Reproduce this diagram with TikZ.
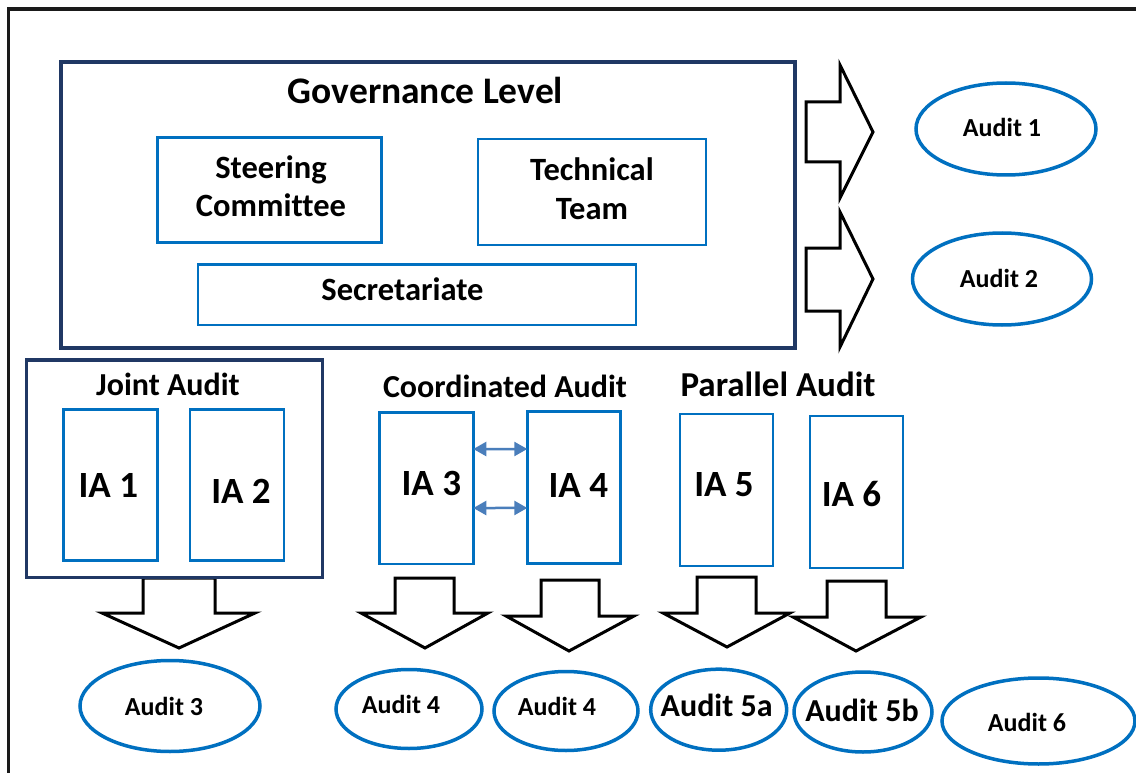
\documentclass[tikz,border=0pt]{standalone}
\usepackage{fontspec}
\setmainfont[Ligatures=NoCommon]{Carlito}
\usetikzlibrary{shapes.geometric,arrows.meta,calc}
\definecolor{navy}{HTML}{203864}
\definecolor{myblue}{HTML}{0070C0}
\definecolor{steel}{HTML}{4A7EBB}
\definecolor{frame}{HTML}{1A1A1A}
\begin{document}
\begin{tikzpicture}[x=1pt,y=-1pt,
  navybox/.style={draw=navy, line width=3.5pt, rectangle, inner sep=0pt, outer sep=0pt},
  bluebox/.style={draw=myblue, line width=2.6pt, rectangle, inner sep=0pt, outer sep=0pt},
  audit/.style={ellipse, draw=myblue, line width=3.5pt, inner sep=0pt, outer sep=0pt},
  blockarrow/.style={draw=black, line width=3pt, fill=white, line join=miter},
  dbl/.style={draw=steel, line width=2.5pt, {Triangle[length=13pt,width=14pt]}-{Triangle[length=13pt,width=14pt]}},
  lbl/.style={anchor=base, inner sep=0pt, font=\bfseries\fontsize{#1}{#1}\selectfont},
  lbl/.default=26,
  ml/.style={anchor=base, inner sep=0pt, align=center, font=\bfseries\fontsize{32.5}{38.5}\selectfont}]
\useasboundingbox (0,0) rectangle (1136,773);
\clip (0,0) rectangle (1136,773);
\fill[white] (0,0) rectangle (1136,773);
% outer frame
\draw[frame, line width=3.5pt] (8.5,9) rectangle (1170,820);

% governance
\node[navybox, minimum width=734pt, minimum height=286pt] (gov) at (428,205) {};
\node[lbl=37.5] (govt) at (425.5,104) {Governance Level};
\node[bluebox, minimum width=224pt, minimum height=105pt] (steer) at (269.5,190) {};
\node[ml] (steert) at (271,216.7) {Steering\\Committee};
\node[bluebox, minimum width=228pt, minimum height=106pt] (tech) at (592,192) {};
\node[ml] (techt) at (592,219) {Technical\\Team};
\node[bluebox, minimum width=438pt, minimum height=60.5pt] (secr) at (417,294.75) {};
\node[lbl=32.5] (secrt) at (402.5,300) {Secretariate};

% right block arrows
\draw[blockarrow] (806,102) -- (840,102) -- (840,65) -- (873,132) -- (840,198) -- (840,162) -- (806,162) -- cycle;
\draw[blockarrow] (806,248) -- (840,248) -- (840,212) -- (873,279) -- (840,347) -- (840,311) -- (806,311) -- cycle;
\node[audit, minimum width=180pt, minimum height=92pt] (a1) at (1006,129) {};
\node[lbl] (a1t) at (1002,136.7) {Audit 1};
\node[audit, minimum width=179pt, minimum height=92pt] (a2) at (1002,279) {};
\node[lbl] (a2t) at (999,287.3) {Audit 2};

% down block arrows
\draw[blockarrow] (143,578) -- (215,578) -- (215,613) -- (255,613) -- (179,648) -- (102,613) -- (143,613) -- cycle;
\draw[blockarrow] (395,578) -- (454,578) -- (454,613) -- (488,613) -- (425,648) -- (361,613) -- (395,613) -- cycle;
\draw[blockarrow] (541,580) -- (599,580) -- (599,616) -- (634,616) -- (569,651) -- (506,616) -- (541,616) -- cycle;
\draw[blockarrow] (697,577) -- (756,577) -- (756,613) -- (790,613) -- (727,647) -- (663,613) -- (697,613) -- cycle;
\draw[blockarrow] (827,581) -- (886,581) -- (886,617) -- (921,617) -- (856,651) -- (793,617) -- (827,617) -- cycle;

% joint audit
\node[navybox, minimum width=296pt, minimum height=217.3pt] (joint) at (174.7,468.65) {};
\node[lbl=32] (jointt) at (168,395) {Joint Audit};
\node[bluebox, minimum width=94pt, minimum height=151.4pt] (ia1) at (110.3,485) {};
\node[lbl=37] (ia1t) at (108.3,497.3) {IA 1};
\node[bluebox, minimum width=94pt, minimum height=151.4pt] (ia2) at (237,485) {};
\node[lbl=37] (ia2t) at (241,503.3) {IA 2};

% coordinated audit
\node[lbl=32] (coordt) at (505,397) {Coordinated Audit};
\node[bluebox, minimum width=94pt, minimum height=151.3pt] (ia3) at (426.3,488.35) {};
\node[lbl=37] (ia3t) at (431.3,495) {IA 3};
\node[bluebox, minimum width=93.4pt, minimum height=151.6pt] (ia4) at (574,487.5) {};
\node[lbl=37] (ia4t) at (578.3,497.3) {IA 4};
\draw[dbl] ($(ia3.north east)!0.24!(ia3.south east)$) -- ($(ia4.north west)!0.246!(ia4.south west)$);
\draw[dbl] ($(ia3.north east)!0.63!(ia3.south east)$) -- ($(ia4.north west)!0.635!(ia4.south west)$);

% parallel audit
\node[lbl=35] (part) at (778,396) {Parallel Audit};
\node[bluebox, minimum width=93pt, minimum height=152pt] (ia5) at (726.5,490) {};
\node[lbl=37] (ia5t) at (724,496) {IA 5};
\node[bluebox, minimum width=93pt, minimum height=152pt] (ia6) at (856.5,492) {};
\node[lbl=37] (ia6t) at (851.5,506) {IA 6};

% bottom audits
\node[audit, minimum width=180pt, minimum height=91pt] (a3) at (170,706) {};
\node[lbl] (a3t) at (164,715) {Audit 3};
\node[audit, minimum width=146pt, minimum height=79pt] (a4l) at (409,709) {};
\node[lbl] (a4lt) at (401,713.3) {Audit 4};
\node[audit, minimum width=144pt, minimum height=79pt] (a4r) at (566,711) {};
\node[lbl] (a4rt) at (557,715) {Audit 4};
\node[audit, minimum width=136pt, minimum height=81pt] (a5a) at (718.7,709.7) {};
\node[lbl=32] (a5at) at (716.7,716.7) {Audit 5a};
\node[audit, minimum width=138pt, minimum height=80pt] (a5b) at (863,712) {};
\node[lbl=32] (a5bt) at (862,721.7) {Audit 5b};
\node[audit, minimum width=193pt, minimum height=86pt] (a6) at (1038.5,721) {};
\node[lbl] (a6t) at (1027,731.7) {Audit 6};
\end{tikzpicture}
\end{document}
